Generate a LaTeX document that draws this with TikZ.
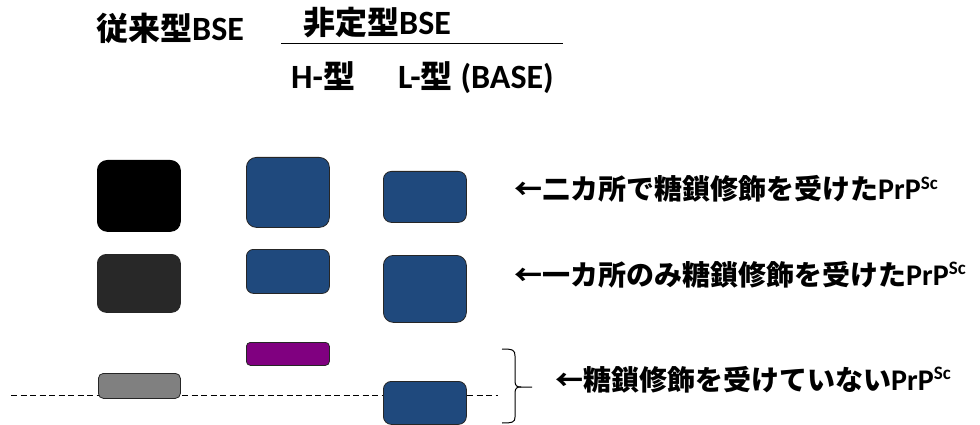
\documentclass[tikz,border=0pt]{standalone}
\usepackage{fontspec}
\setmainfont{Carlito}
\newfontfamily\jpfont{Noto Sans CJK JP}
\newcommand\myJ[1]{{\jpfont\fontsize{28}{30}\selectfont #1}}
\newcommand\myJH[1]{{\jpfont\fontsize{32}{34}\selectfont #1}}
\newcommand\mySc{\raisebox{0.36em}{\fontsize{19}{19}\selectfont Sc}}
\definecolor{bsblue}{RGB}{31,73,125}
\definecolor{dgrey}{RGB}{40,40,40}
\definecolor{mgrey}{RGB}{128,128,128}
\definecolor{purp}{RGB}{128,0,128}
\tikzset{
  lbl/.style={anchor=base west, inner sep=0pt, font=\fontsize{30}{32}\selectfont\bfseries},
  head/.style={anchor=base west, inner sep=0pt, font=\fontsize{34}{36}\selectfont\bfseries},
  band/.style={draw=black!85, line width=0.8pt, inner sep=0pt, anchor=north west},
}
\begin{document}
\begin{tikzpicture}[x=1pt,y=1pt]
\useasboundingbox (0,0) rectangle (980,-425);
% titles
\node[head] (t1) at (96,-41) {\myJH{従来型}BSE};
\node[head] (t2) at (303,-35) {\myJH{非定型}BSE};
\coordinate (ul1) at (281,-44);
\coordinate (ul2) at (563,-44);
\draw[line width=1pt] (ul1) -- (ul2);
\node[head] (th) at (291,-89) {H-\myJH{型}};
\node[head] (tl) at (398,-89) {L-\myJH{型} (BASE)};
% dashed line
\coordinate (d1) at (11,-395);
\coordinate (d2) at (498,-395);
\draw[line width=1pt, dash pattern=on 6pt off 3.5pt] (d1) -- (d2);
% column 1
\node[band, fill=black, draw=black, rounded corners=10pt, minimum width=83pt, minimum height=71pt] (b1) at (97,-160) {};
\node[band, fill=dgrey, rounded corners=9pt, minimum width=83pt, minimum height=58pt] (b2) at (97,-254) {};
\node[band, fill=mgrey, rounded corners=5pt, minimum width=82pt, minimum height=25pt] (b3) at (98,-373) {};
% column 2 (H)
\node[band, fill=bsblue, rounded corners=10pt, minimum width=83pt, minimum height=70pt] (h1) at (246,-157) {};
\node[band, fill=bsblue, rounded corners=7pt, minimum width=83pt, minimum height=44pt] (h2) at (246,-249) {};
\node[band, fill=purp, rounded corners=4pt, minimum width=83pt, minimum height=23pt] (h3) at (246,-342) {};
% column 3 (L)
\node[band, fill=bsblue, rounded corners=8pt, minimum width=83pt, minimum height=51pt] (l1) at (383,-171) {};
\node[band, fill=bsblue, rounded corners=10pt, minimum width=83pt, minimum height=67pt] (l2) at (383,-255) {};
\node[band, fill=bsblue, rounded corners=8pt, minimum width=83pt, minimum height=43pt] (l3) at (383,-381) {};
% brace
\draw[line width=1pt] (502,-349) .. controls (513,-349) and (515,-350) .. (515,-356) -- (515,-381)
  .. controls (515,-386) and (517,-387) .. (521,-387) -- (532,-387);
\draw[line width=1pt] (521,-387) .. controls (517,-387) and (515,-388) .. (515,-393) -- (515,-417)
  .. controls (515,-422) and (513,-423) .. (502,-423);
% labels
\node[lbl] (r1) at (514,-200) {\myJ{←二カ所で糖鎖修飾を受けた}PrP\mySc};
\node[lbl] (r2) at (514,-285) {\myJ{←一カ所のみ糖鎖修飾を受けた}PrP\mySc};
\node[lbl] (r3) at (555,-390) {\myJ{←糖鎖修飾を受けていない}PrP\mySc};
\end{tikzpicture}
\end{document}
